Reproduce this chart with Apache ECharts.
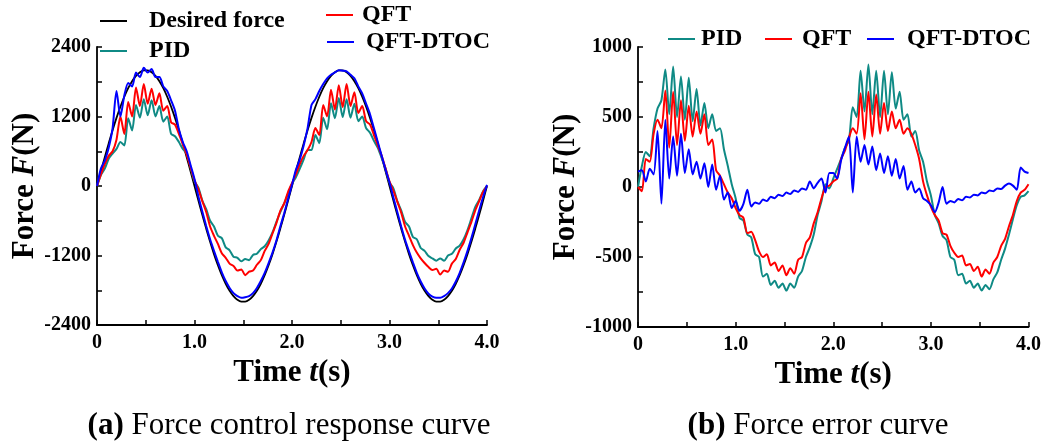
<!DOCTYPE html>
<html>
<head>
<meta charset="utf-8">
<script src="https://cdn.jsdelivr.net/npm/echarts@6.0.0/dist/echarts.min.js"></script>
<style>
  html, body { margin: 0; padding: 0; background: #fff; }
  #main { width: 1044px; height: 441px; }
</style>
</head>
<body>
<div id="main"></div>
<script>
// sample step 0.04 s, 0 .. 4.0 s
const desired = [
  0, 251, 497, 736, 964, 1176, 1369, 1541, 1689, 1810, 1902, 1965, 1996, 1996, 1965, 1902, 1810, 1689, 1541, 1369, 1176, 964, 736, 497, 251,
  0, -251, -497, -736, -964, -1176, -1369, -1541, -1689, -1810, -1902, -1965, -1996, -1996, -1965, -1902, -1810, -1689, -1541, -1369, -1176, -964, -736, -497, -251,
  0, 251, 497, 736, 964, 1176, 1369, 1541, 1689, 1810, 1902, 1965, 1996, 1996, 1965, 1902, 1810, 1689, 1541, 1369, 1176, 964, 736, 497, 251,
  0, -251, -497, -736, -964, -1176, -1369, -1541, -1689, -1810, -1902, -1965, -1996, -1996, -1965, -1902, -1810, -1689, -1541, -1369, -1176, -964, -736, -497, -251,
  0
];
const pidForce = [
  0, 190, 300, 470, 560, 640, 760, 700, 1170, 960, 1400, 1180, 1500, 1220, 1480, 1200, 1380, 1110, 1200, 900, 860, 760, 640, 560, 320, 80,
  -30, -250, -400, -600, -700, -860, -900, -1060, -1110, -1220, -1240, -1300, -1260, -1280, -1190, -1170, -1090, -1040, -940, -800, -620, -450, -300, -130, 40,
  150, 300, 460, 620, 620, 880, 740, 1180, 980, 1430, 1170, 1520, 1190, 1500, 1180, 1420, 1120, 1200, 1000, 920, 780, 660, 480, 300, 60,
  -40, -260, -420, -620, -700, -880, -920, -1070, -1120, -1210, -1250, -1290, -1250, -1290, -1200, -1170, -1080, -1030, -920, -760, -560, -360, -240, -90, 0
];
const qftForce = [
  0, 200, 380, 520, 600, 800, 1200, 900, 1450, 1200, 1700, 1380, 1760, 1420, 1680, 1400, 1600, 1300, 1380, 1100, 1060, 900, 720, 540, 320, 100,
  -60, -260, -450, -700, -860, -1000, -1160, -1240, -1340, -1380, -1460, -1440, -1540, -1480, -1460, -1360, -1280, -1120, -1000, -820, -640, -430, -300, -100, 50,
  200, 380, 520, 620, 760, 1000, 880, 1400, 1200, 1660, 1320, 1740, 1360, 1760, 1380, 1620, 1260, 1380, 1120, 1060, 880, 700, 520, 300, 80,
  -80, -270, -460, -700, -860, -1020, -1150, -1250, -1330, -1400, -1450, -1430, -1530, -1460, -1480, -1340, -1260, -1100, -980, -800, -620, -420, -260, -100, 0
];
const dtocForce = [
  0, 300, 440, 660, 1000, 1640, 1200, 1560, 1780, 1720, 1960, 1880, 2040, 1960, 2020, 1880, 1880, 1720, 1640, 1480, 1300, 980, 760, 600, 360, 120,
  -180, -440, -690, -920, -1120, -1310, -1490, -1640, -1760, -1850, -1900, -1930, -1920, -1900, -1850, -1760, -1640, -1500, -1330, -1150, -940, -700, -470, -220, 20,
  280, 460, 700, 1000, 1400, 1500, 1640, 1760, 1860, 1920, 1960, 2000, 1990, 1980, 1920, 1860, 1720, 1600, 1420, 1240, 1000, 760, 520, 280, 60,
  -200, -450, -700, -930, -1130, -1320, -1500, -1650, -1770, -1860, -1910, -1930, -1930, -1900, -1850, -1770, -1650, -1500, -1320, -1120, -900, -660, -420, -190, 20
];
const pidError = [
  0, 150, 250, 220, 420, 560, 620, 840, 520, 860, 500, 790, 480, 780, 470, 700, 440, 600, 420, 520, 400, 420, 270, 150, 20, -80,
  -220, -240, -340, -360, -480, -500, -640, -620, -700, -670, -720, -690, -740, -690, -720, -640, -600, -500, -430, -340, -200, -100, 20, -10, 60,
  130, 200, 280, 330, 570, 500, 830, 540, 875, 520, 830, 500, 830, 520, 820, 560, 680, 480, 520, 360, 400, 260, 180, 40, -60,
  -200, -260, -350, -380, -500, -520, -630, -620, -690, -670, -720, -690, -740, -700, -730, -660, -610, -520, -440, -340, -230, -130, -70, -60, -30
];
const qftError = [
  0, -30, 200, 180, 380, 480, 420, 690, 280, 680, 300, 620, 330, 580, 360, 540, 380, 520, 300, 340, 120, 80, 20, -40, -80, -150,
  -200, -220, -330, -320, -380, -460, -500, -480, -560, -540, -600, -560, -630, -580, -620, -520, -500, -400, -360, -260, -180, -80, 0, 10, 40,
  60, 200, 260, 350, 420, 380, 670, 340, 680, 360, 660, 380, 600, 400, 540, 420, 480, 380, 420, 380, 300, 200, 40, -60, -140,
  -200, -240, -330, -340, -420, -470, -500, -490, -560, -550, -600, -570, -640, -590, -620, -540, -500, -420, -370, -280, -200, -100, -40, -20, 20
];
const dtocError = [
  110, 120, 40, 130, 90, 400, -120, 480, 60, 360, 80, 380, 100, 270, 90, 180, 60, 170, 0, 160, -20, 80, -90, -40, -150, -100,
  -170, -120, -20, -140, -110, -120, -90, -100, -70, -80, -55, -65, -40, -50, -25, -35, -10, -20, 40, -10, 30, 60, -40, 100, 100,
  60, 190, 280, 360, -40, 360, 180, 300, 160, 290, 120, 240, 100, 220, 80, 200, 60, 150, -20, 40, -40, -10, -80, -100, -130,
  -180, -110, 0, -120, -100, -110, -85, -95, -70, -75, -55, -60, -40, -45, -25, -30, -10, -15, 10, 25, 10, -20, 140, 110, 100
];
const time = desired.map((_, i) => +(i * 0.04).toFixed(2));

const forceTicks = [-2400, -1200, 0, 1200, 2400];
const errorTicks = [-1000, -500, 0, 500, 1000];
const timeTicks = [0, 1, 2, 3, 4];

const FONT = '"Liberation Serif", "Times New Roman", serif';
const TEAL = '#0f8a85';

const chart = echarts.init(document.getElementById('main'));

const axisCommon = {
  axisLine: { onZero: false, lineStyle: { color: '#000', width: 1.8 } },
  axisTick: { inside: true, length: 5, lineStyle: { color: '#000', width: 1.5 } },
  splitLine: { show: false },
  nameTextStyle: {
    fontFamily: FONT, fontSize: 31, fontWeight: 'bold', color: '#000',
    rich: { i: { fontFamily: FONT, fontSize: 31, fontWeight: 'bold', fontStyle: 'italic', color: '#000' } }
  }
};

const makeX = (gi, gap) => ({
  ...axisCommon,
  type: 'value', gridIndex: gi, min: 0, max: 4, interval: 0.5,
  name: 'Time {i|t}(s)', nameLocation: 'middle', nameGap: gap,
  axisLabel: {
    fontFamily: FONT, fontSize: 20, fontWeight: 'bold', color: '#000', margin: 8,
    showMinLabel: true, showMaxLabel: true,
    formatter: (v) => (timeTicks.includes(v) ? (v === 0 ? '0' : v.toFixed(1)) : '')
  }
});

const makeY = (gi, lim, step, ticks, gap) => ({
  ...axisCommon,
  type: 'value', gridIndex: gi, min: -lim, max: lim, interval: step,
  name: 'Force {i|F}(N)', nameLocation: 'middle', nameGap: gap,
  axisLabel: {
    fontFamily: FONT, fontSize: 20, fontWeight: 'bold', color: '#000', margin: 6,
    showMinLabel: true, showMaxLabel: true,
    formatter: (v) => (ticks.includes(v) ? String(v) : '')
  }
});

const line = (name, arr, color, gi, width) => ({
  name, type: 'line', xAxisIndex: gi, yAxisIndex: gi,
  data: time.map((t, i) => [t, arr[i]]),
  symbol: 'none', smooth: 0.25,
  lineStyle: { color, width },
  itemStyle: { color },
  animation: false
});

const legendAt = (name, left, top, pad) => ({
  data: [name], left, top, padding: 0,
  icon: 'rect', itemWidth: 27, itemHeight: 2, selectedMode: false,
  textStyle: { fontFamily: FONT, fontSize: 24, fontWeight: 'bold', color: '#000', lineHeight: 24, padding: [0, 0, 0, pad] }
});

chart.setOption({
  backgroundColor: '#fff',
  animation: false,
  grid: [
    { left: 97, top: 47, width: 390, height: 278 },
    { left: 638, top: 47, width: 392, height: 280 }
  ],
  xAxis: [makeX(0, 24), makeX(1, 20)],
  yAxis: [makeY(0, 2400, 600, forceTicks, 56), makeY(1, 1000, 250, errorTicks, 46)],
  legend: [
    legendAt('Desired force', 100, 9, 17),
    legendAt('PID', 100, 39, 17),
    legendAt('QFT', 326, 3, 4),
    legendAt('QFT-DTOC', 327, 30, 7),
    legendAt('PID', 668, 27, 1),
    legendAt('QFT', 765, 27, 5),
    legendAt('QFT-DTOC', 867, 27, 8)
  ],
  series: [
    line('Desired force', desired, '#000', 0, 1.8),
    line('PID', pidForce, TEAL, 0, 2),
    line('QFT', qftForce, '#ff0000', 0, 2),
    line('QFT-DTOC', dtocForce, '#0000ff', 0, 2),
    line('PID', pidError, TEAL, 1, 2),
    line('QFT', qftError, '#ff0000', 1, 2),
    line('QFT-DTOC', dtocError, '#0000ff', 1, 2)
  ],
  graphic: [
    {
      type: 'text', x: 289, y: 426,
      style: {
        text: '{b|(a)} Force control response curve',
        fontFamily: FONT, fontSize: 31, fill: '#000', align: 'center', verticalAlign: 'middle',
        rich: { b: { fontFamily: FONT, fontSize: 31, fontWeight: 'bold', fill: '#000' } }
      }
    },
    {
      type: 'text', x: 818, y: 426,
      style: {
        text: '{b|(b)} Force error curve',
        fontFamily: FONT, fontSize: 31, fill: '#000', align: 'center', verticalAlign: 'middle',
        rich: { b: { fontFamily: FONT, fontSize: 31, fontWeight: 'bold', fill: '#000' } }
      }
    }
  ]
});
</script>
</body>
</html>
